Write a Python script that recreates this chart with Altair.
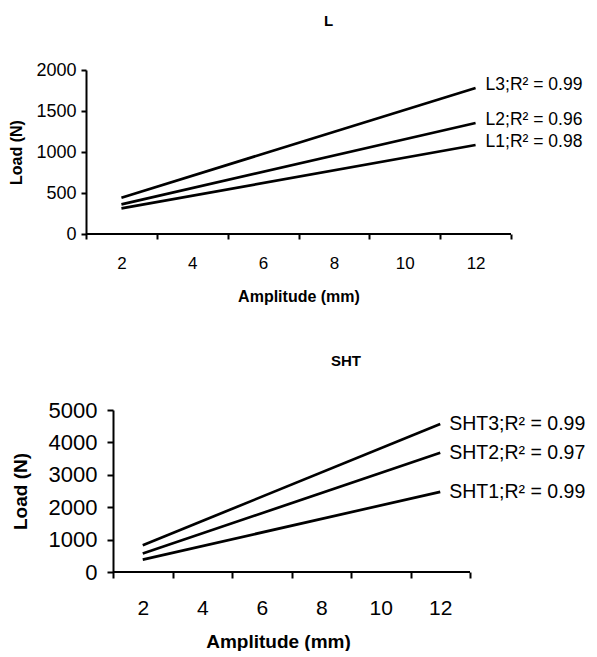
import altair as alt
import pandas as pd

FONT = "Liberation Sans"

amplitude = [2, 12]

top_series = ["L1", "L2", "L3"]
top_values = [[313, 1085], [362, 1354], [443, 1780]]
top_labels = ["L1;R\u00b2 = 0.98", "L2;R\u00b2 = 0.96", "L3;R\u00b2 = 0.99"]

bot_series = ["SHT1", "SHT2", "SHT3"]
bot_values = [[383, 2474], [569, 3681], [826, 4568]]
bot_labels = ["SHT1;R\u00b2 = 0.99", "SHT2;R\u00b2 = 0.97", "SHT3;R\u00b2 = 0.99"]

top_yticks = [0, 500, 1000, 1500, 2000]
bot_yticks = [0, 1000, 2000, 3000, 4000, 5000]
x_ticks = [1, 3, 5, 7, 9, 11, 13]
x_range = [1, 13]


def make_df(series, values, labels):
    rows = []
    for s, vals, lab in zip(series, values, labels):
        for a, v in zip(amplitude, vals):
            rows.append({"series": s, "amplitude": a, "load": v, "label": lab})
    return pd.DataFrame(rows)


def panel(df, title, title_dx, title_off, ydomain, yticks, w, h, lab_font, tick_font,
          axis_title_font, lab_pad_x, xtitle_pad, lab_pad_y, ytitle_pad, text_font,
          text_dy, text_dx, tick_size, line_w, shift=0):
    # shift: pixels by which the visible axes sit to the right of the panel origin
    unit = w / 12.0
    x_start = x_range[0] - shift / unit
    x = alt.X(
        "amplitude:Q",
        scale=alt.Scale(domain=[x_start, x_range[1]], nice=False, zero=False),
        axis=alt.Axis(
            values=x_ticks,
            labelExpr="datum.value >= 13 ? '' : format(datum.value + 1, 'd')",
            labelOffset=unit,
            labelFlush=False,
            labelOverlap=False,
            grid=False,
            domain=False,
            tickSize=tick_size,
            tickWidth=2,
            tickColor="black",
            labelColor="black",
            labelFontSize=tick_font,
            labelPadding=lab_pad_x,
            title="Amplitude (mm)",
            titleFontSize=axis_title_font,
            titleFontWeight="bold",
            titlePadding=xtitle_pad,
            titleColor="black",
        ),
    )
    y_axis_kw = dict(
        values=yticks,
        format="d",
        labelOverlap=False,
        labelFlush=False,
        grid=False,
        tickSize=tick_size,
        tickWidth=2,
        domainWidth=2,
        domainColor="black",
        tickColor="black",
        labelColor="black",
        labelFontSize=lab_font,
        labelPadding=lab_pad_y,
        title="Load (N)",
        titleFontSize=axis_title_font,
        titleFontWeight="bold",
        titlePadding=ytitle_pad,
        titleColor="black",
    )
    if shift:
        y_axis_kw["offset"] = -shift
    y = alt.Y(
        "load:Q",
        scale=alt.Scale(domain=ydomain, nice=False),
        axis=alt.Axis(**y_axis_kw),
    )
    base = alt.Chart(df).encode(x=x, y=y)
    lines = base.mark_line(color="black", strokeWidth=line_w).encode(detail="series:N")
    texts = (
        base.transform_filter("datum.amplitude == 12")
        .mark_text(align="left", baseline="middle", dx=text_dx, dy=text_dy,
                   fontSize=text_font, font=FONT, color="black")
        .encode(text="label:N")
    )
    axis_line = (
        alt.Chart(pd.DataFrame({"amplitude": [x_range[0]], "amplitude_end": [x_range[1]],
                                "load": [ydomain[0]]}))
        .mark_rule(color="black", strokeWidth=2)
        .encode(x=x, x2="amplitude_end:Q", y=y)
    )
    return (lines + texts + axis_line).properties(
        width=w + shift,
        height=h,
        title=alt.TitleParams(title, fontSize=15, fontWeight="bold", font=FONT,
                              anchor="middle", dx=title_dx, offset=title_off,
                              color="black"),
    )


top = panel(make_df(top_series, top_values, top_labels), "L", 30, 32, [0, 2000],
            top_yticks, 425, 164, 18, 17, 16, 16, 17, 5, 11, 17.5, -3, 10, 5, 2.7)
bot = panel(make_df(bot_series, bot_values, bot_labels), "SHT", 68, 30, [0, 5000],
            bot_yticks, 357, 162, 22, 21, 19, 19, 14, 10, 18, 19.5, 0, 9, 6, 2.7,
            shift=27)

chart = (
    alt.vconcat(top, bot, spacing=50)
    .properties(padding={"left": 0, "top": 6, "right": 0, "bottom": 0})
    .configure_view(stroke=None)
    .configure_axis(labelFont=FONT, titleFont=FONT)
)

chart.save("out.html", embed_options={"renderer": "svg", "actions": False})
